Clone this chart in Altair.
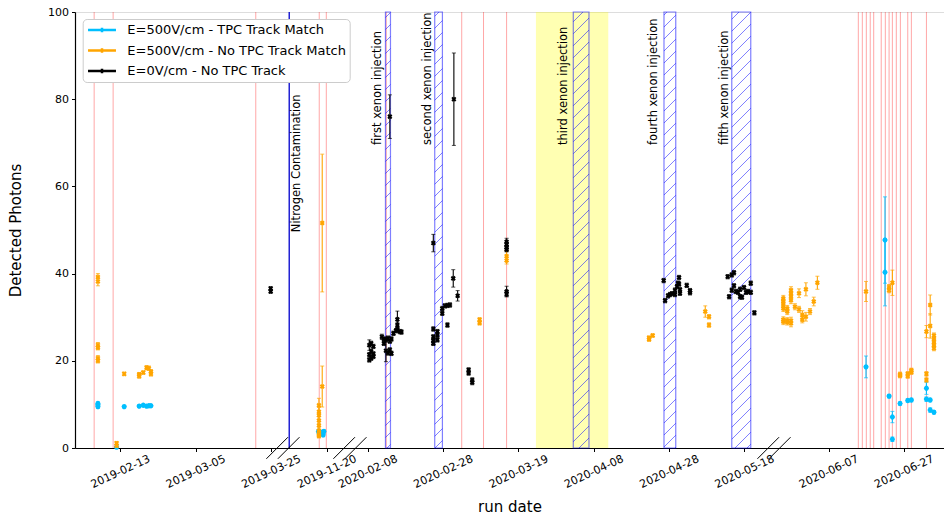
import altair as alt
import numpy as np
import pandas as pd

# ---------------------------------------------------------------- layout
W, H = 869, 436          # plot area in pixels
Y_MAX = 100

# Broken time axis: four date windows drawn side by side
SEG_START = ["2019-02-01 00:00", "2019-11-08 09:30", "2020-02-03 06:30", "2020-05-23 12:30"]
SEG_END = ["2019-03-28 05:00", "2019-11-26 04:30", "2020-05-25 21:00", "2020-07-07 16:00"]

TICK_DATES = ["2019-02-13", "2019-03-05", "2019-03-25", "2019-11-20", "2020-02-08",
              "2020-02-28", "2020-03-19", "2020-04-08", "2020-04-28", "2020-05-18",
              "2020-06-07", "2020-06-27"]

S_MATCH = "E=500V/cm - TPC Track Match"
S_NOMATCH = "E=500V/cm - No TPC Track Match"
S_ZERO = "E=0V/cm - No TPC Track"
SERIES = [S_MATCH, S_NOMATCH, S_ZERO]
COLORS = ["#00bfff", "#ffa500", "#000000"]
SHAPES = ["circle", "cross", "cross"]

# ---------------------------------------------------------------- data
# (run time, detected photons, uncertainty)
MATCH = [
    ("2019-02-07 02:00", 9.5, 0.4), ("2019-02-07 02:00", 9.9, 0.4), ("2019-02-07 02:00", 10.2, 0.4),
    ("2019-02-12 01:00", 0.2, 0.2), ("2019-02-14 01:30", 9.5, 0.3), ("2019-02-18 01:00", 9.6, 0.3),
    ("2019-02-19 03:00", 9.8, 0.3), ("2019-02-20 00:00", 9.6, 0.3), ("2019-02-20 15:00", 9.7, 0.3),
    ("2019-02-21 04:00", 9.7, 0.3),
    ("2019-11-17 20:00", 3.8, 0.4), ("2019-11-18 05:00", 3.3, 0.4), ("2019-11-18 20:00", 3.6, 0.4),
    ("2019-11-19 07:00", 3.8, 0.4), ("2019-11-19 02:00", 3.0, 0.4),
    ("2020-06-16 23:00", 18.6, 2.5), ("2020-06-22 00:00", 47.7, 9.9), ("2020-06-22 00:00", 40.3, 7.7),
    ("2020-06-23 02:00", 11.9, 0.4), ("2020-06-23 23:00", 7.1, 1.3), ("2020-06-23 23:00", 2.0, 0.5),
    ("2020-06-26 00:00", 10.2, 0.4), ("2020-06-28 01:00", 10.9, 0.4), ("2020-06-29 00:00", 11.0, 0.4),
    ("2020-07-03 00:00", 13.7, 1.4), ("2020-07-03 00:00", 11.2, 0.5), ("2020-07-04 00:00", 11.0, 0.4),
    ("2020-07-04 00:00", 8.7, 0.5), ("2020-07-05 00:00", 8.2, 0.4),
]

NOMATCH = [
    ("2019-02-07 02:00", 38.2, 1.0), ("2019-02-07 02:00", 39.2, 0.8), ("2019-02-07 02:00", 23.6, 0.6),
    ("2019-02-07 02:00", 23.0, 0.5), ("2019-02-07 02:00", 20.6, 0.6), ("2019-02-07 02:00", 20.0, 0.5),
    ("2019-02-12 01:00", 1.1, 0.4), ("2019-02-12 01:00", 0.5, 0.3), ("2019-02-14 01:30", 17.0, 0.4),
    ("2019-02-18 01:00", 16.5, 0.5), ("2019-02-18 01:00", 16.9, 0.4), ("2019-02-19 03:00", 17.3, 0.4),
    ("2019-02-20 00:00", 18.4, 0.5), ("2019-02-20 15:00", 18.3, 0.5), ("2019-02-21 04:00", 17.5, 0.5),
    ("2019-02-21 04:00", 17.0, 0.5),
    ("2019-11-17 23:00", 9.8, 1.6), ("2019-11-17 23:00", 8.3, 1.0), ("2019-11-17 23:00", 7.5, 1.0),
    ("2019-11-17 23:00", 6.3, 1.0), ("2019-11-17 23:00", 5.2, 1.0), ("2019-11-17 23:00", 4.0, 0.8),
    ("2019-11-17 23:00", 3.2, 0.8), ("2019-11-17 23:00", 2.8, 0.5),
    ("2019-11-18 20:00", 51.6, 15.8), ("2019-11-18 20:00", 14.1, 4.7),
    ("2020-03-08 17:00", 29.4, 0.5), ("2020-03-08 17:00", 28.7, 0.5),
    ("2020-03-15 21:00", 44.0, 1.2), ("2020-03-15 21:00", 43.0, 0.8),
    ("2020-04-22 17:00", 24.9, 0.4), ("2020-04-22 17:00", 25.3, 0.4), ("2020-04-23 16:00", 25.8, 0.4),
    ("2020-05-07 15:00", 31.3, 1.3), ("2020-05-08 15:00", 30.1, 0.5), ("2020-05-08 15:00", 28.2, 0.5),
    ("2020-05-26 00:00", 34.3, 0.7), ("2020-05-26 00:00", 33.6, 0.7), ("2020-05-26 00:00", 32.8, 0.7),
    ("2020-05-26 00:00", 32.0, 0.7), ("2020-05-26 00:00", 29.4, 0.7), ("2020-05-26 00:00", 29.0, 0.7),
    ("2020-05-27 01:00", 32.0, 0.7), ("2020-05-27 01:00", 31.3, 0.7), ("2020-05-27 01:00", 29.2, 0.7),
    ("2020-05-27 01:00", 28.9, 0.7),
    ("2020-05-28 01:00", 36.2, 0.8), ("2020-05-28 01:00", 35.5, 0.8), ("2020-05-28 01:00", 34.7, 0.8),
    ("2020-05-28 01:00", 33.9, 0.8), ("2020-05-28 01:00", 29.2, 0.8), ("2020-05-28 01:00", 28.6, 0.8),
    ("2020-05-29 02:00", 32.4, 0.7), ("2020-05-30 04:00", 35.5, 1.0), ("2020-05-30 04:00", 31.8, 0.7),
    ("2020-05-31 01:00", 30.5, 1.0), ("2020-05-31 01:00", 29.4, 0.7), ("2020-06-01 00:00", 36.4, 1.5),
    ("2020-06-01 00:00", 30.1, 1.0), ("2020-06-02 02:00", 31.3, 0.7), ("2020-06-03 02:00", 33.6, 1.0),
    ("2020-06-04 01:00", 37.9, 1.5),
    ("2020-06-16 23:00", 35.9, 2.3), ("2020-06-23 02:00", 36.9, 0.6), ("2020-06-23 02:00", 36.2, 0.6),
    ("2020-06-23 23:00", 37.9, 2.9), ("2020-06-26 00:00", 16.9, 0.5), ("2020-06-26 00:00", 16.6, 0.5),
    ("2020-06-28 01:00", 17.0, 0.5), ("2020-06-28 01:00", 16.5, 0.5), ("2020-06-29 00:00", 17.8, 0.5),
    ("2020-06-29 00:00", 17.4, 0.5), ("2020-07-03 00:00", 17.0, 0.5), ("2020-07-03 00:00", 15.6, 0.5),
    ("2020-07-03 00:00", 26.7, 1.4), ("2020-07-04 00:00", 32.8, 2.3), ("2020-07-04 00:00", 28.0, 2.8),
    ("2020-07-05 00:00", 25.8, 0.6), ("2020-07-05 00:00", 25.0, 0.6), ("2020-07-05 00:00", 24.3, 0.6),
    ("2020-07-05 00:00", 23.6, 0.6), ("2020-07-05 00:00", 22.9, 0.6),
]

ZERO_FIELD = [
    ("2019-03-24 23:00", 36.6, 0.4), ("2019-03-24 23:00", 35.9, 0.4),
    ("2020-02-08 10:00", 23.6, 1.2), ("2020-02-08 10:00", 21.4, 0.5), ("2020-02-08 10:00", 20.2, 0.5),
    ("2020-02-08 22:00", 24.0, 0.5), ("2020-02-08 22:00", 22.2, 0.5), ("2020-02-08 22:00", 20.6, 0.5),
    ("2020-02-09 12:00", 23.3, 0.5), ("2020-02-09 12:00", 21.6, 0.5), ("2020-02-09 12:00", 21.0, 0.5),
    ("2020-02-11 18:00", 25.5, 0.6), ("2020-02-12 07:00", 25.0, 0.5), ("2020-02-12 07:00", 24.0, 0.5),
    ("2020-02-12 20:00", 24.8, 0.5), ("2020-02-12 20:00", 22.3, 2.5), ("2020-02-13 09:00", 25.2, 0.5),
    ("2020-02-13 09:00", 21.8, 0.5), ("2020-02-13 21:00", 24.5, 0.5), ("2020-02-13 21:00", 22.5, 0.5),
    ("2020-02-13 21:00", 76.0, 5.0), ("2020-02-14 07:00", 25.0, 0.5), ("2020-02-14 07:00", 21.7, 0.5),
    ("2020-02-14 20:00", 26.3, 0.5), ("2020-02-15 12:00", 26.9, 0.5), ("2020-02-15 21:00", 29.5, 1.9),
    ("2020-02-15 21:00", 28.2, 0.5), ("2020-02-15 21:00", 27.1, 0.5), ("2020-02-16 13:00", 26.7, 0.5),
    ("2020-02-16 23:00", 26.6, 0.5),
    ("2020-02-25 10:00", 47.0, 2.0), ("2020-02-25 10:00", 27.3, 0.5), ("2020-02-25 10:00", 25.5, 0.5),
    ("2020-02-25 10:00", 24.0, 0.5), ("2020-02-25 10:00", 24.6, 0.5), ("2020-02-26 12:00", 26.7, 0.5),
    ("2020-02-26 12:00", 24.8, 0.5), ("2020-02-26 12:00", 25.9, 0.5),
    ("2020-02-27 19:00", 32.0, 0.5), ("2020-02-27 19:00", 30.9, 0.5), ("2020-02-28 12:00", 32.6, 0.5),
    ("2020-02-29 04:00", 32.7, 0.5), ("2020-02-29 04:00", 28.2, 0.5), ("2020-02-29 20:00", 32.8, 0.5),
    ("2020-03-01 17:00", 38.9, 2.0), ("2020-03-01 21:00", 80.0, 10.6), ("2020-03-02 21:00", 34.9, 1.2),
    ("2020-03-05 19:00", 17.9, 0.5), ("2020-03-05 19:00", 17.2, 0.5), ("2020-03-06 18:00", 15.6, 0.5),
    ("2020-03-06 18:00", 15.0, 0.5),
    ("2020-03-15 21:00", 47.3, 0.8), ("2020-03-15 21:00", 46.7, 0.5), ("2020-03-15 21:00", 46.0, 0.5),
    ("2020-03-15 21:00", 45.5, 0.5), ("2020-03-15 21:00", 35.9, 1.2), ("2020-03-15 21:00", 35.3, 0.6),
    ("2020-04-26 14:00", 38.4, 0.5), ("2020-04-26 23:00", 33.8, 0.5), ("2020-04-27 18:00", 34.9, 0.5),
    ("2020-04-28 06:00", 35.2, 0.5), ("2020-04-28 19:00", 35.4, 0.5), ("2020-04-29 14:00", 36.2, 0.5),
    ("2020-04-29 14:00", 35.2, 0.5), ("2020-04-30 03:00", 37.0, 0.5), ("2020-04-30 09:00", 37.8, 0.5),
    ("2020-04-30 16:00", 39.1, 0.5), ("2020-04-30 16:00", 37.6, 0.5), ("2020-04-30 22:00", 35.5, 0.5),
    ("2020-04-30 22:00", 36.3, 0.5), ("2020-05-02 17:00", 37.3, 0.5), ("2020-05-03 14:00", 36.1, 0.5),
    ("2020-05-03 14:00", 35.6, 0.5),
    ("2020-05-13 14:00", 39.3, 0.5), ("2020-05-13 23:00", 34.7, 0.5), ("2020-05-14 16:00", 39.7, 0.5),
    ("2020-05-14 16:00", 36.2, 0.5), ("2020-05-15 06:00", 40.2, 0.5), ("2020-05-15 06:00", 37.2, 0.5),
    ("2020-05-15 19:00", 35.9, 0.5), ("2020-05-16 08:00", 35.7, 0.5), ("2020-05-16 21:00", 34.7, 0.5),
    ("2020-05-16 21:00", 36.4, 0.5), ("2020-05-17 09:00", 34.6, 0.5), ("2020-05-17 22:00", 36.8, 0.5),
    ("2020-05-18 11:00", 35.7, 0.5), ("2020-05-18 23:00", 35.9, 0.5), ("2020-05-19 17:00", 37.8, 0.5),
    ("2020-05-19 17:00", 35.7, 0.5), ("2020-05-20 16:00", 31.0, 0.5),
]

# Run boundaries / detector events
RED_LINES = ["2019-02-06 02:00", "2019-02-11 03:00", "2019-03-21 00:00",
             "2019-11-18 01:00", "2019-11-19 22:00",
             "2020-02-12 22:00", "2020-03-03 23:00", "2020-03-09 18:00", "2020-03-15 21:00",
             "2020-06-14 22:00", "2020-06-15 23:30", "2020-06-17 01:00", "2020-06-18 02:00",
             "2020-06-19 00:00", "2020-06-21 00:00", "2020-06-22 02:00", "2020-06-23 02:00",
             "2020-06-23 23:00", "2020-06-25 00:00", "2020-06-26 02:00", "2020-06-28 01:00",
             "2020-06-29 00:00", "2020-07-03 00:00"]
N2_LINE = "2019-11-10 01:40"

XENON_START = ["2020-02-12 17:00", "2020-02-25 19:00", "2020-04-02 14:00", "2020-04-26 16:00", "2020-05-14 16:00"]
XENON_END = ["2020-02-14 01:00", "2020-02-27 20:00", "2020-04-06 18:00", "2020-04-29 19:00", "2020-05-19 17:00"]
YELLOW_START = "2020-03-23 16:00"
YELLOW_END = "2020-04-11 21:00"

LABEL_TEXT = ["Nitrogen Contamination", "first xenon injection", "second xenon injection",
              "third xenon injection", "fourth xenon injection", "fifth xenon injection"]
LABEL_DATES = ["2019-11-12 03:00", "2020-02-10 20:00", "2020-02-24 00:00",
               "2020-03-31 06:00", "2020-04-24 00:00", "2020-05-12 21:00"]
LABEL_Y = [49.5, 69.5, 69.5, 69.5, 69.5, 69.5]

# ---------------------------------------------------------------- broken-axis mapping
DAY = pd.Timedelta(days=1)
seg_s = [pd.Timestamp(s) for s in SEG_START]
seg_e = [pd.Timestamp(s) for s in SEG_END]
seg_len = [(e - s) / DAY for s, e in zip(seg_s, seg_e)]
seg_off = [float(v) for v in np.cumsum([0.0] + seg_len[:-1])]
TOTAL = float(sum(seg_len))
PX_PER_DAY = W / TOTAL
PX_PER_UNIT = H / Y_MAX


def to_pos(ts):
    t = pd.Timestamp(ts)
    for s, e, o in zip(seg_s, seg_e, seg_off):
        if s <= t <= e:
            return float(o + (t - s) / DAY)
    raise ValueError(f"{ts} is outside the plotted windows")


def series_frame(points, name):
    return pd.DataFrame([{"pos": to_pos(d), "val": v, "lo": v - e, "hi": v + e, "series": name}
                         for d, v, e in points])


frames = [series_frame(MATCH, S_MATCH), series_frame(NOMATCH, S_NOMATCH),
          series_frame(ZERO_FIELD, S_ZERO)]
pts = pd.concat(frames, ignore_index=True)
red_df = pd.DataFrame({"pos": [to_pos(d) for d in RED_LINES]})
n2_df = pd.DataFrame({"pos": [to_pos(N2_LINE)]})
band_df = pd.DataFrame({"pos": [to_pos(d) for d in XENON_START], "pos2": [to_pos(d) for d in XENON_END]})
yellow_df = pd.DataFrame({"pos": [to_pos(YELLOW_START)], "pos2": [to_pos(YELLOW_END)]})
label_df = pd.DataFrame({"pos": [to_pos(d) for d in LABEL_DATES], "val": LABEL_Y, "text": LABEL_TEXT})

# '/' hatching of the injection bands, on a global 45-degree grid
HATCH_STEP = 12.0
hatch_rows = []
for p0, p1 in zip(band_df["pos"], band_df["pos2"]):
    x0, x1 = p0 * PX_PER_DAY, p1 * PX_PER_DAY
    for k in range(int(np.ceil((x0 - H) / HATCH_STEP)), int(np.floor(x1 / HATCH_STEP)) + 1):
        c = k * HATCH_STEP
        hatch_rows.append({"pos": p0, "pos2": p1,
                           "val": (x0 - c) / PX_PER_UNIT, "val2": (x1 - c) / PX_PER_UNIT})
hatch_df = pd.DataFrame(hatch_rows)

# double-slash marks where the time axis is cut
SLASH_GAP, SLASH_HALF = 5.75, 10.8
slash_rows = []
for b in seg_off[1:]:
    for side in (-1, 1):
        cx = b + side * SLASH_GAP / PX_PER_DAY
        slash_rows.append({"pos": cx - SLASH_HALF / PX_PER_DAY, "pos2": cx + SLASH_HALF / PX_PER_DAY,
                           "val": -SLASH_HALF / PX_PER_UNIT, "val2": SLASH_HALF / PX_PER_UNIT})
slash_df = pd.DataFrame(slash_rows)

tick_pos = [to_pos(d) for d in TICK_DATES]
label_expr = "".join(
    f"datum.value < {(tick_pos[i] + tick_pos[i + 1]) / 2:.4f} ? '{TICK_DATES[i]}' : "
    for i in range(len(tick_pos) - 1)) + f"'{TICK_DATES[-1]}'"

# ---------------------------------------------------------------- encodings
FONT = "DejaVu Sans"
x_scale = alt.Scale(domain=[0, TOTAL], nice=False, zero=False)
y_scale = alt.Scale(domain=[0, Y_MAX], nice=False, zero=True)
x_axis = alt.Axis(values=tick_pos, labelExpr=label_expr, title="run date", grid=False,
                  labelAngle=-25, labelAlign="center", labelBaseline="middle", labelPadding=20,
                  labelFontSize=11, labelOverlap=False, labelFlush=False, labelBound=False,
                  tickSize=3.5, tickColor="black", domainColor="black", domainWidth=1.2,
                  labelColor="black", titleFontSize=15, titleFontWeight="normal",
                  titleColor="black", titlePadding=10)
y_axis = alt.Axis(values=[0, 20, 40, 60, 80, 100], title="Detected Photons", grid=False,
                  labelFontSize=11, tickSize=3.5, tickColor="black", domainColor="black",
                  domainWidth=1.2, labelColor="black", labelPadding=3, titleFontSize=15,
                  titleFontWeight="normal", titleColor="black", titlePadding=24)


def X(field="pos"):
    return alt.X(f"{field}:Q", scale=x_scale, axis=x_axis)


def Y(field="val"):
    return alt.Y(f"{field}:Q", scale=y_scale, axis=y_axis)


color_scale = alt.Scale(domain=SERIES, range=COLORS)
# legend handle: a horizontal line with a small error-bar tick in the middle
legend = alt.Legend(title=None, orient="none", legendX=7.7, legendY=7, direction="vertical",
                    symbolType="M-2.15,0H2.15M0,-0.35V0.35", symbolSize=169, symbolStrokeWidth=2.5,
                    symbolOffset=8.3, labelOffset=17.3, labelFontSize=13, labelFont=FONT,
                    labelColor="black", fillColor="white", strokeColor="#cccccc",
                    cornerRadius=4, padding=3, rowPadding=4.5, labelLimit=400)

# ---------------------------------------------------------------- layers
yellow = alt.Chart(yellow_df).mark_rect(color="yellow", opacity=0.3).encode(x=X(), x2="pos2:Q")
red = alt.Chart(red_df).mark_rule(color="red", opacity=0.35, strokeWidth=1).encode(x=X())
n2 = alt.Chart(n2_df).mark_rule(color="#0000cc", strokeWidth=1.3).encode(x=X())
hatch = alt.Chart(hatch_df).mark_rule(color="blue", opacity=0.5, strokeWidth=1, clip=True).encode(
    x=X(), x2="pos2:Q", y=Y(), y2="val2:Q")
bands = alt.Chart(band_df).mark_rect(fillOpacity=0, stroke="blue", strokeOpacity=0.5,
                                     strokeWidth=1.2).encode(x=X(), x2="pos2:Q")

# error bars carry the legend; caps and markers are drawn per series
err = alt.Chart(pts).mark_rule(strokeWidth=1.1).encode(
    x=X(), y=Y("lo"), y2="hi:Q", stroke=alt.Stroke("series:N", scale=color_scale, legend=legend))
marker_layers = []
for df, col, shp in zip(frames, COLORS, SHAPES):
    base = alt.Chart(df)
    marker_layers.append(base.mark_tick(orient="horizontal", size=4, thickness=1, color=col).encode(
        x=X(), y=Y("lo")))
    marker_layers.append(base.mark_tick(orient="horizontal", size=4, thickness=1, color=col).encode(
        x=X(), y=Y("hi")))
    marker_layers.append(base.mark_point(filled=True, size=26, opacity=1, angle=45, shape=shp,
                                         color=col).encode(x=X(), y=Y()))

labels = alt.Chart(label_df).mark_text(angle=270, align="left", baseline="middle", font=FONT,
                                       fontSize=11.5, color="black").encode(
    x=X(), y=Y(), text="text:N")
slashes = alt.Chart(slash_df).mark_rule(color="black", strokeWidth=1, clip=False).encode(
    x=X(), x2="pos2:Q", y=Y(), y2="val2:Q")

chart = alt.layer(yellow, red, n2, hatch, bands, err, *marker_layers, labels, slashes).properties(
    width=W, height=H, autosize=alt.AutoSizeParams(type="none"),
    padding={"left": 75, "top": 12, "right": 0, "bottom": 67},
    background="white",
).configure_view(stroke=None).configure(font=FONT)

chart.save("out.html", embed_options={"renderer": "svg", "actions": False})
